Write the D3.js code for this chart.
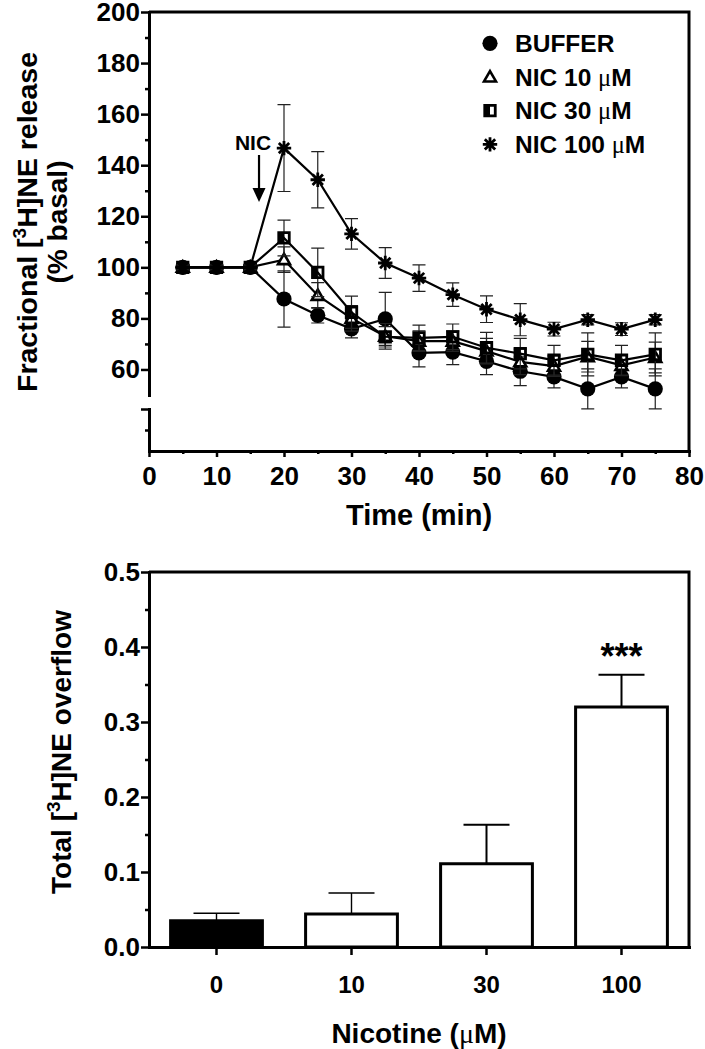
<!DOCTYPE html>
<html><head><meta charset="utf-8">
<script src="https://cdn.jsdelivr.net/npm/d3@7"></script>
<style>
body{margin:0;background:#fff}
svg{display:block}
text{font-family:"Liberation Sans",Arial,Helvetica,sans-serif;font-weight:bold;fill:#000}
</style>
</head><body>
<svg id="c" width="705" height="1049"></svg>
<script>
// ---------- DATA (top panel: time course) ----------
const times = [5,10,15,20,25,30,35,40,45,50,55,60,65,70,75];
const bufferVals = [100,100,100,87.6,81.2,75.9,79.8,66.5,66.8,63.2,59.3,57.1,52.4,57.1,52.4];
const bufferErr  = [1,1,1,11,3,3.5,10.4,5.5,4.9,5.2,5.6,4.3,7.8,4.3,7.8];
const nic10Vals  = [100,100,100,103,89,80,73,71.1,71.1,67.2,63,61.3,65,61.6,64.7];
const nic10Err   = [1,1,1,5,5,5,5,4,4,5,5,4,6,4,6];
const nic30Vals  = [100,100,100,111.5,98,82.4,72.8,72.4,72.8,68.5,66.2,63.6,65.9,63.6,65.9];
const nic30Err   = [1,1,1,7,9.5,6.3,4,5,5,6,6,5.8,8.4,5.8,8.4];
const nic100Vals = [100,100,100,146.7,134.3,113.1,101.7,95.8,89.3,83.6,79.5,75.8,79.5,75.8,79.5];
const nic100Err  = [1,1,1,17,11,6,6,5.2,4.6,5.2,6.3,2.7,2,2.5,2];
const seriesNames = ["BUFFER","NIC 10 ","NIC 30 ","NIC 100 "];
const seriesUnits = ["","\u03bcM","\u03bcM","\u03bcM"];
const xTopTicks = [0,10,20,30,40,50,60,70,80];
const xTopMinor = [5,15,25,35,45,55,65,75];
const yTopTicks = [60,80,100,120,140,160,180,200];
const yTopMinor = [70,90,110,130,150,170,190];
const nicArrow = {time:16.3, textVal:146, fromVal:144, toVal:125.6};

// ---------- DATA (bottom panel: total overflow) ----------
const concLabels = ["0","10","30","100"];
const overflowVals = [0.035,0.044,0.111,0.320];
const overflowErr  = [0.010,0.028,0.052,0.043];
const yBotTicks = [0,0.1,0.2,0.3,0.4,0.5];
const yBotMinor = [0.05,0.15,0.25,0.35,0.45];

const svg = d3.select("#c");
const FONT = '"Liberation Sans",Arial,Helvetica,sans-serif';

function styleAx(g, fs){
  g.attr("font-family",FONT).attr("font-size",fs).attr("font-weight","bold");
  g.select(".domain").attr("stroke","#000").attr("stroke-width",3).attr("stroke-linecap","square");
  g.selectAll(".tick line").attr("stroke","#000").attr("stroke-width",2.5);
  g.selectAll(".tick text").attr("fill","#000");
}

// ================= TOP PANEL =================
const xT = d3.scaleLinear([0,80],[149,689]);
const yT = d3.scaleLinear([50,200],[395,12]);
const yLow = d3.scaleLinear([0,20],[451,409]);
const gTop = svg.append("g");

gTop.append("path").attr("d",`M${xT(0)},${yT(200)}H${xT(80)}V${yLow(0)}`)
  .attr("fill","none").attr("stroke","#000").attr("stroke-width",3);

const yAx = gTop.append("g").attr("transform",`translate(${xT(0)},0)`)
  .call(d3.axisLeft(yT).tickValues(yTopTicks).tickSize(8).tickSizeOuter(0).tickPadding(1));
styleAx(yAx,26);
const yAxMin = gTop.append("g").attr("transform",`translate(${xT(0)},0)`)
  .call(d3.axisLeft(yT).tickValues(yTopMinor).tickSize(4).tickFormat(""));
styleAx(yAxMin,26); yAxMin.select(".domain").remove();
const yLowAx = gTop.append("g").attr("transform",`translate(${xT(0)},0)`)
  .call(d3.axisLeft(yLow).tickValues([20]).tickSize(8).tickSizeOuter(0).tickFormat(""));
styleAx(yLowAx,26);
const yLowMin = gTop.append("g").attr("transform",`translate(${xT(0)},0)`)
  .call(d3.axisLeft(yLow).tickValues([10]).tickSize(4).tickFormat(""));
styleAx(yLowMin,26); yLowMin.select(".domain").remove();

const xAx = gTop.append("g").attr("transform",`translate(0,${yLow(0)})`)
  .call(d3.axisBottom(xT).tickValues(xTopTicks).tickSize(6).tickSizeOuter(0));
styleAx(xAx,26);
xAx.selectAll(".tick text").attr("y",34).attr("dy","0");
const xAxMin = gTop.append("g").attr("transform",`translate(0,${yLow(0)})`)
  .call(d3.axisBottom(xT).tickValues(xTopMinor).tickSize(3).tickFormat(""));
styleAx(xAxMin,26); xAxMin.select(".domain").remove();

gTop.append("text").attr("x",(xT(0)+xT(80))/2).attr("y",525).attr("text-anchor","middle")
  .attr("font-size",29).text("Time (min)");
const yt1 = gTop.append("text").attr("transform","translate(37,222) rotate(-90)")
  .attr("text-anchor","middle").attr("font-size",28.5);
yt1.append("tspan").text("Fractional [");
yt1.append("tspan").attr("font-size",19).attr("dy",-11).text("3");
yt1.append("tspan").attr("dy",11).text("H]NE release");
gTop.append("text").attr("transform","translate(67,222) rotate(-90)")
  .attr("text-anchor","middle").attr("font-size",28).text("(% basal)");

function drawMarker(g, kind, x, y){
  if(kind==="circle"){
    g.append("path").attr("transform",`translate(${x},${y})`)
      .attr("d",d3.symbol(d3.symbolCircle, Math.PI*7.6*7.6)()).attr("fill","#000");
  } else if(kind==="triangle"){
    g.append("path").attr("transform",`translate(${x},${y+1})`)
      .attr("d",d3.symbol(d3.symbolTriangle, 62)()).attr("fill","#fff")
      .attr("stroke","#000").attr("stroke-width",2.6).attr("stroke-linejoin","miter");
  } else if(kind==="square"){
    const s = 10.5;
    g.append("rect").attr("x",x-s/2).attr("y",y-s/2).attr("width",s/2).attr("height",s).attr("fill","#000");
    g.append("path").attr("transform",`translate(${x},${y})`)
      .attr("d",d3.symbol(d3.symbolSquare, s*s)()).attr("fill","none")
      .attr("stroke","#000").attr("stroke-width",2.8);
  } else {
    const r = 7.2, a = r*0.72;
    g.append("path").attr("transform",`translate(${x},${y})`)
      .attr("d",`M${-r},0H${r}M0,${-r}V${r}M${-a},${-a}L${a},${a}M${-a},${a}L${a},${-a}`)
      .attr("stroke","#000").attr("stroke-width",2.8).attr("fill","none");
  }
}

const series = [
  {name:seriesNames[0], unit:seriesUnits[0], vals:bufferVals, err:bufferErr, kind:"circle"},
  {name:seriesNames[1], unit:seriesUnits[1], vals:nic10Vals,  err:nic10Err,  kind:"triangle"},
  {name:seriesNames[2], unit:seriesUnits[2], vals:nic30Vals,  err:nic30Err,  kind:"square"},
  {name:seriesNames[3], unit:seriesUnits[3], vals:nic100Vals, err:nic100Err, kind:"star"}
];

const line = d3.line().x(d=>xT(d[0])).y(d=>yT(d[1]));
series.forEach(s=>{
  const g = gTop.append("g");
  const pts = times.map((t,i)=>[t,s.vals[i],s.err[i]]);
  pts.forEach(p=>{
    const x = xT(p[0]), y1 = yT(p[1]-p[2]), y2 = yT(p[1]+p[2]);
    g.append("path").attr("d",`M${x},${y1}V${y2}M${x-6.5},${y1}H${x+6.5}M${x-6.5},${y2}H${x+6.5}`)
      .attr("stroke","#222").attr("stroke-width",1.2).attr("fill","none");
  });
  g.append("path").attr("d",line(pts)).attr("fill","none").attr("stroke","#000").attr("stroke-width",2.2);
  pts.forEach(p=>drawMarker(g, s.kind, xT(p[0]), yT(p[1])));
});

const ax = xT(nicArrow.time);
gTop.append("text").attr("x",ax-6).attr("y",yT(nicArrow.textVal)).attr("text-anchor","middle")
  .attr("font-size",21).text("NIC");
gTop.append("line").attr("x1",ax).attr("x2",ax).attr("y1",yT(nicArrow.fromVal)).attr("y2",yT(nicArrow.toVal)-12)
  .attr("stroke","#000").attr("stroke-width",2.2);
gTop.append("path").attr("d",`M${ax-6.5},${yT(nicArrow.toVal)-14}L${ax+6.5},${yT(nicArrow.toVal)-14}L${ax},${yT(nicArrow.toVal)}Z`)
  .attr("fill","#000");

const leg = gTop.append("g");
series.forEach((s,i)=>{
  const base = 52 + i*33.7;
  drawMarker(leg, s.kind, 490, base-8.7);
  const t = leg.append("text").attr("x",515).attr("y",base).attr("font-size",24.5);
  t.append("tspan").text(s.name);
  if(s.unit){
    t.append("tspan").attr("font-family",'"Liberation Serif","Times New Roman",serif').attr("font-weight","normal").text(s.unit[0]);
    t.append("tspan").text(s.unit.slice(1));
  }
});

// ================= BOTTOM PANEL =================
const xB = d3.scaleBand(concLabels,[149,689]).paddingInner(0.32).paddingOuter(0.16);
const yB = d3.scaleLinear([0,0.5],[947,572]);
const bot = svg.append("g");

bot.append("path").attr("d",`M${149},${yB(0.5)}H${689}V${yB(0)}`)
  .attr("fill","none").attr("stroke","#000").attr("stroke-width",3);

concLabels.forEach((c,i)=>{
  const cx = xB(c)+xB.bandwidth()/2, y1 = yB(overflowVals[i]), y2 = yB(overflowVals[i]+overflowErr[i]);
  bot.append("path").attr("d",`M${cx},${y1}V${y2}M${cx-23},${y2}H${cx+23}`)
    .attr("stroke","#000").attr("stroke-width",i<2?1.4:2).attr("fill","none");
});
bot.selectAll("rect.bar").data(concLabels).join("rect").attr("class","bar")
  .attr("x",c=>xB(c)).attr("width",xB.bandwidth())
  .attr("y",(c,i)=>yB(overflowVals[i])).attr("height",(c,i)=>yB(0)-yB(overflowVals[i]))
  .attr("fill",(c,i)=>i===0?"#000":"#fff").attr("stroke","#000").attr("stroke-width",3);

const ybAx = bot.append("g").attr("transform","translate(149,0)")
  .call(d3.axisLeft(yB).tickValues(yBotTicks).tickSize(8).tickSizeOuter(0).tickPadding(1).tickFormat(d3.format(".1f")));
styleAx(ybAx,26);
const ybMin = bot.append("g").attr("transform","translate(149,0)")
  .call(d3.axisLeft(yB).tickValues(yBotMinor).tickSize(4).tickFormat(""));
styleAx(ybMin,26); ybMin.select(".domain").remove();

const xbAx = bot.append("g").attr("transform",`translate(0,${yB(0)})`)
  .call(d3.axisBottom(xB).tickSize(8).tickSizeOuter(0));
styleAx(xbAx,24);
xbAx.selectAll(".tick text").attr("y",46).attr("dy","0");

bot.append("text").attr("x",xB("100")+xB.bandwidth()/2).attr("y",669).attr("text-anchor","middle")
  .attr("font-size",36).text("***");

const bt = bot.append("text").attr("x",419).attr("y",1043).attr("text-anchor","middle").attr("font-size",28);
bt.append("tspan").text("Nicotine (");
bt.append("tspan").attr("font-family",'"Liberation Serif","Times New Roman",serif').attr("font-weight","normal").text("\u03bc");
bt.append("tspan").text("M)");
const byt = bot.append("text").attr("transform","translate(71,752) rotate(-90)")
  .attr("text-anchor","middle").attr("font-size",28);
byt.append("tspan").text("Total [");
byt.append("tspan").attr("font-size",19).attr("dy",-11).text("3");
byt.append("tspan").attr("dy",11).text("H]NE overflow");
</script>
</body></html>
